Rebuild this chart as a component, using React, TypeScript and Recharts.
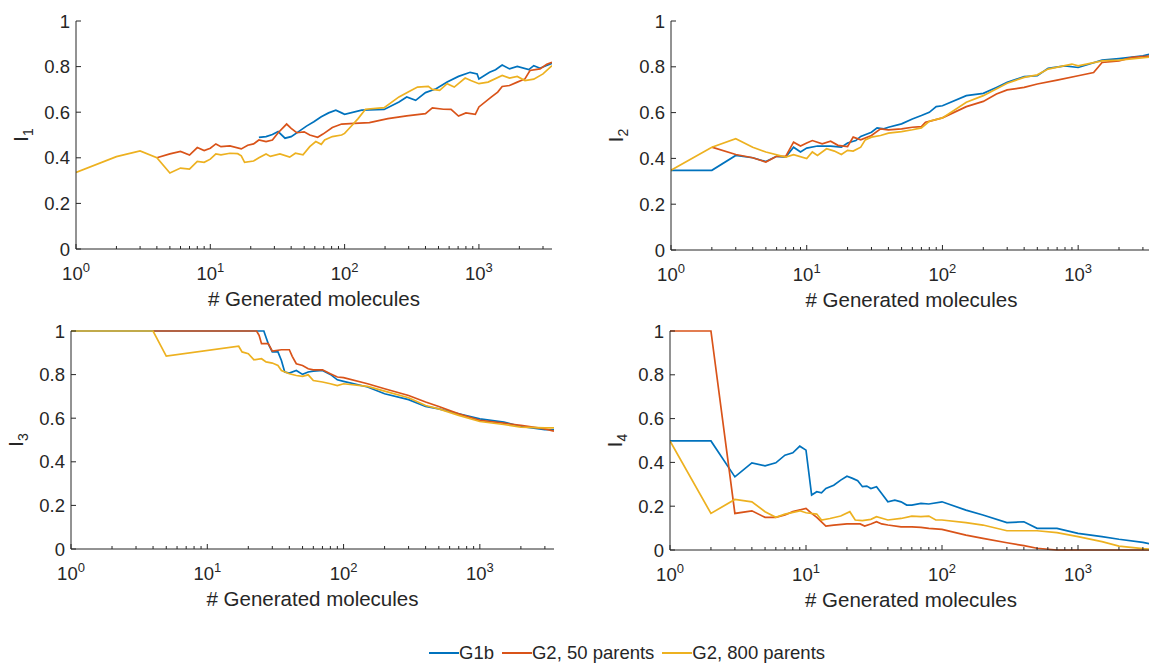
import React from "react";
import { Label, Line, LineChart, XAxis, YAxis } from "recharts";

const FONT = '"Liberation Sans", Arial, Helvetica, sans-serif';
const INK = "#262626";

const seriesNames = ["G1b", "G2, 50 parents", "G2, 800 parents"];
const seriesColors = ["#0072BD", "#D95319", "#EDB120"];

const xTicks = [
  1, 2, 3, 4, 5, 6, 7, 8, 9, 10, 20, 30, 40, 50, 60, 70, 80, 90, 100, 200, 300,
  400, 500, 600, 700, 800, 900, 1000, 2000, 3000,
];
const yTicks = [0, 0.2, 0.4, 0.6, 0.8, 1];
const xDomain = [1, 3500];
const xTitle = "# Generated molecules";

// I1
const i1G1bX = [23, 26, 29, 32, 36, 40, 46, 52, 59, 67, 76, 86, 95, 100, 134, 197, 254, 290, 338, 400, 480, 580, 705, 860, 970, 1000, 1200, 1330, 1490, 1690, 1930, 2350, 2560, 2850, 3500];
const i1G1bY = [0.49, 0.493, 0.502, 0.515, 0.486, 0.493, 0.517, 0.539, 0.558, 0.58, 0.597, 0.609, 0.597, 0.591, 0.609, 0.612, 0.645, 0.667, 0.652, 0.686, 0.703, 0.732, 0.757, 0.775, 0.768, 0.746, 0.775, 0.786, 0.807, 0.79, 0.801, 0.787, 0.804, 0.793, 0.814];
const i1P50X = [4, 5, 6, 7, 8, 9, 10, 11, 12, 14, 17, 19, 21, 23, 26, 29, 32, 37, 40, 44, 50, 55, 63, 69, 81, 95, 118, 153, 210, 290, 400, 450, 545, 620, 705, 800, 940, 1000, 1240, 1380, 1490, 1690, 1930, 2200, 2400, 2850, 3200, 3500];
const i1P50Y = [0.4, 0.417, 0.428, 0.412, 0.445, 0.432, 0.442, 0.461, 0.449, 0.452, 0.439, 0.455, 0.461, 0.478, 0.471, 0.478, 0.51, 0.548, 0.529, 0.51, 0.514, 0.5, 0.49, 0.504, 0.533, 0.548, 0.551, 0.554, 0.572, 0.584, 0.594, 0.619, 0.613, 0.612, 0.583, 0.597, 0.591, 0.623, 0.667, 0.688, 0.713, 0.717, 0.732, 0.746, 0.783, 0.79, 0.81, 0.819];
const i1P800X = [1, 2, 3, 4, 5, 6, 7, 8, 9, 10, 11, 12, 14, 16, 17, 18, 21, 23, 26, 28, 33, 39, 43, 49, 55, 61, 67, 71, 81, 95, 100, 111, 126, 143, 197, 254, 307, 349, 420, 450, 510, 580, 655, 790, 870, 1000, 1170, 1490, 1690, 1930, 2200, 2560, 3000, 3500];
const i1P800Y = [0.336, 0.405, 0.43, 0.4, 0.333, 0.355, 0.35, 0.384, 0.38, 0.394, 0.417, 0.413, 0.42, 0.418, 0.409, 0.38, 0.386, 0.4, 0.417, 0.406, 0.417, 0.403, 0.42, 0.413, 0.449, 0.471, 0.459, 0.478, 0.493, 0.5, 0.507, 0.536, 0.572, 0.613, 0.62, 0.667, 0.693, 0.71, 0.713, 0.7, 0.696, 0.725, 0.71, 0.75, 0.739, 0.725, 0.732, 0.761, 0.75, 0.757, 0.739, 0.745, 0.768, 0.804];

// I2
const i2G1bX = [1, 2, 3, 4, 5, 6, 7, 8, 9, 10, 12, 15, 18, 20, 23, 25, 30, 33, 37, 40, 50, 60, 70, 80, 90, 100, 150, 200, 250, 300, 400, 500, 600, 800, 1000, 1500, 2000, 3000, 3500];
const i2G1bY = [0.348, 0.348, 0.413, 0.403, 0.386, 0.409, 0.406, 0.449, 0.428, 0.445, 0.454, 0.454, 0.449, 0.467, 0.478, 0.496, 0.514, 0.533, 0.529, 0.536, 0.551, 0.572, 0.587, 0.601, 0.626, 0.63, 0.674, 0.684, 0.71, 0.732, 0.757, 0.761, 0.793, 0.804, 0.797, 0.829, 0.836, 0.848, 0.858];
const i2P50X = [2, 3, 4, 5, 6, 7, 8, 9, 10, 11, 13, 15, 17, 20, 22, 25, 30, 35, 40, 50, 60, 70, 75, 80, 100, 150, 200, 250, 300, 400, 500, 700, 1000, 1300, 1500, 2000, 2500, 3500];
const i2P50Y = [0.449, 0.417, 0.403, 0.384, 0.409, 0.409, 0.471, 0.454, 0.467, 0.478, 0.464, 0.475, 0.457, 0.452, 0.493, 0.481, 0.5, 0.529, 0.525, 0.529, 0.536, 0.539, 0.558, 0.562, 0.577, 0.626, 0.649, 0.681, 0.699, 0.71, 0.725, 0.742, 0.761, 0.775, 0.819, 0.826, 0.841, 0.848];
const i2P800X = [1, 2, 3, 4, 5, 7, 8, 10, 11, 12, 14, 16, 18, 20, 22, 25, 27, 30, 35, 40, 50, 60, 70, 80, 100, 150, 200, 300, 400, 500, 600, 900, 1000, 1500, 2000, 3500];
const i2P800Y = [0.348, 0.449, 0.486, 0.449, 0.428, 0.406, 0.416, 0.399, 0.428, 0.413, 0.442, 0.432, 0.417, 0.435, 0.432, 0.449, 0.481, 0.493, 0.5, 0.51, 0.517, 0.525, 0.533, 0.562, 0.577, 0.645, 0.674, 0.728, 0.754, 0.765, 0.79, 0.812, 0.804, 0.826, 0.829, 0.843];

// I3
const i3G1bX = [1, 26, 27, 28, 30, 33, 35, 37, 40, 45, 50, 55, 60, 70, 80, 90, 100, 150, 200, 300, 400, 500, 700, 1000, 1500, 2000, 3000, 3500];
const i3G1bY = [1, 1, 0.97, 0.942, 0.904, 0.904, 0.865, 0.812, 0.807, 0.819, 0.801, 0.812, 0.816, 0.819, 0.801, 0.776, 0.769, 0.743, 0.712, 0.685, 0.654, 0.643, 0.62, 0.597, 0.582, 0.562, 0.547, 0.547];
const i3P50X = [4, 23, 24, 25, 28, 30, 35, 40, 42, 45, 50, 55, 60, 70, 80, 90, 100, 150, 200, 300, 400, 500, 700, 1000, 1500, 2000, 3000, 3500];
const i3P50Y = [1, 1, 0.98, 0.942, 0.942, 0.908, 0.914, 0.914, 0.884, 0.85, 0.842, 0.827, 0.822, 0.822, 0.804, 0.789, 0.786, 0.758, 0.735, 0.704, 0.674, 0.654, 0.62, 0.59, 0.577, 0.567, 0.551, 0.541];
const i3P800X = [1, 4, 5, 17, 18, 20, 22, 25, 27, 30, 33, 35, 40, 45, 50, 55, 60, 70, 80, 90, 100, 150, 200, 300, 400, 500, 700, 1000, 1500, 2000, 3000, 3500];
const i3P800Y = [1, 1, 0.885, 0.93, 0.904, 0.896, 0.868, 0.873, 0.858, 0.853, 0.842, 0.819, 0.804, 0.796, 0.792, 0.799, 0.773, 0.766, 0.758, 0.75, 0.758, 0.746, 0.724, 0.694, 0.658, 0.643, 0.613, 0.585, 0.571, 0.559, 0.556, 0.556];

// I4
const i4G1bX = [1, 2, 3, 4, 5, 6, 7, 8, 9, 10, 11, 12, 13, 14, 16, 18, 20, 22, 24, 26, 28, 30, 33, 36, 40, 45, 50, 55, 60, 70, 80, 100, 150, 200, 300, 400, 500, 700, 1000, 1500, 2000, 3000, 3500];
const i4G1bY = [0.498, 0.498, 0.334, 0.398, 0.384, 0.398, 0.433, 0.444, 0.474, 0.456, 0.251, 0.266, 0.261, 0.281, 0.296, 0.319, 0.337, 0.327, 0.316, 0.289, 0.292, 0.281, 0.289, 0.258, 0.22, 0.228, 0.22, 0.205, 0.205, 0.213, 0.21, 0.22, 0.182, 0.16, 0.125, 0.129, 0.099, 0.099, 0.076, 0.061, 0.049, 0.035, 0.027];
const i4P50X = [1, 2, 3, 4, 5, 6, 7, 8, 10, 11, 12, 14, 16, 20, 25, 27, 30, 33, 36, 40, 50, 60, 70, 80, 100, 150, 200, 300, 400, 500, 700, 1000, 3500];
const i4P50Y = [1, 1, 0.167, 0.179, 0.149, 0.149, 0.16, 0.175, 0.19, 0.167, 0.149, 0.109, 0.114, 0.119, 0.119, 0.109, 0.119, 0.129, 0.119, 0.114, 0.106, 0.106, 0.103, 0.099, 0.094, 0.068, 0.053, 0.033, 0.02, 0.008, 0, 0, 0];
const i4P800X = [1, 2, 3, 4, 5, 6, 7, 9, 10, 12, 13, 15, 18, 21, 23, 26, 30, 33, 40, 50, 60, 70, 80, 90, 100, 150, 200, 300, 500, 700, 1000, 1500, 2000, 3000, 3500];
const i4P800Y = [0.498, 0.167, 0.231, 0.22, 0.175, 0.149, 0.164, 0.179, 0.17, 0.164, 0.137, 0.144, 0.155, 0.175, 0.137, 0.134, 0.14, 0.152, 0.137, 0.144, 0.155, 0.152, 0.155, 0.137, 0.137, 0.125, 0.114, 0.088, 0.088, 0.079, 0.061, 0.038, 0.018, 0.006, 0.003];

const zip = (xs: number[], ys: number[]) => xs.map((x, i) => ({ x, y: ys[i] }));

const panels = [
  { n: 1, left: 0, top: 0, width: 560, height: 312, axisW: 76, axisH: 63, series: [zip(i1G1bX, i1G1bY), zip(i1P50X, i1P50Y), zip(i1P800X, i1P800Y)] },
  { n: 2, left: 595, top: 0, width: 565, height: 312, axisW: 76, axisH: 62, series: [zip(i2G1bX, i2G1bY), zip(i2P50X, i2P50Y), zip(i2P800X, i2P800Y)] },
  { n: 3, left: 0, top: 310, width: 562, height: 300, axisW: 71, axisH: 61, series: [zip(i3G1bX, i3G1bY), zip(i3P50X, i3P50Y), zip(i3P800X, i3P800Y)] },
  { n: 4, left: 594, top: 310, width: 566, height: 300, axisW: 76, axisH: 60, series: [zip(i4G1bX, i4G1bY), zip(i4P50X, i4P50Y), zip(i4P800X, i4P800Y)] },
];

function XTick(props: any) {
  const { x, y, payload } = props;
  const v = payload.value;
  const p = Math.round(Math.log10(v));
  const major = Math.abs(Math.pow(10, p) - v) < 1e-6;
  return (
    <g>
      <line x1={x} x2={x} y1={y} y2={y - (major ? 5 : 3)} stroke={INK} strokeWidth={1} />
      {major && (
        <text x={x} y={y + 31} textAnchor="middle" fill={INK} fontSize={18.5} fontFamily={FONT}>
          10
          <tspan dy={-8} fontSize={13}>{p}</tspan>
        </text>
      )}
    </g>
  );
}

function YTick(props: any) {
  const { x, y, payload } = props;
  return (
    <g>
      <line x1={x} x2={x + 5} y1={y} y2={y} stroke={INK} strokeWidth={1} />
      <text x={x - 6} y={y} dy="0.36em" textAnchor="end" fill={INK} fontSize={18.5} fontFamily={FONT}>
        {String(payload.value)}
      </text>
    </g>
  );
}

function renderXTitle(props: any) {
  const vb = props.viewBox;
  return (
    <text x={vb.x + vb.width / 2} y={vb.y + 57} textAnchor="middle" fill={INK} fontSize={20.5} fontFamily={FONT}>
      {xTitle}
    </text>
  );
}

function makeYTitle(n: number) {
  return (props: any) => {
    const vb = props.viewBox;
    const bx = vb.x + vb.width - 48.5;
    const cy = vb.y + vb.height / 2;
    return (
      <text transform={`translate(${bx},${cy}) rotate(-90)`} textAnchor="middle" fill={INK} fontSize={20} fontFamily={FONT}>
        I
        <tspan dy={5} fontSize={14}>{n}</tspan>
      </text>
    );
  };
}

function Panel({ n, left, top, width, height, axisW, axisH, series }: any) {
  return (
    <div style={{ position: "absolute", left, top }}>
      <LineChart width={width} height={height} margin={{ top: 21, right: 8, left: 0, bottom: 0 }}>
        <XAxis
          type="number"
          dataKey="x"
          scale="log"
          domain={xDomain}
          allowDataOverflow
          ticks={xTicks}
          interval={0}
          tickSize={0}
          tickMargin={0}
          tick={<XTick />}
          height={axisH}
          stroke={INK}
        >
          <Label content={renderXTitle} />
        </XAxis>
        <YAxis
          type="number"
          dataKey="y"
          domain={[0, 1]}
          ticks={yTicks}
          interval={0}
          tickSize={0}
          tickMargin={0}
          tick={<YTick />}
          width={axisW}
          stroke={INK}
        >
          <Label content={makeYTitle(n)} />
        </YAxis>
        {series.map((s: any[], k: number) => (
          <Line
            key={seriesNames[k]}
            data={s}
            dataKey="y"
            name={seriesNames[k]}
            type="linear"
            stroke={seriesColors[k]}
            strokeWidth={1.7}
            dot={false}
            activeDot={false}
            isAnimationActive={false}
          />
        ))}
      </LineChart>
    </div>
  );
}

function LegendRow() {
  return (
    <div
      style={{
        position: "absolute",
        left: 429,
        top: 642,
        display: "flex",
        alignItems: "center",
        fontFamily: FONT,
        fontSize: 18.5,
        color: INK,
        whiteSpace: "nowrap",
      }}
    >
      {seriesNames.map((name, k) => (
        <div key={name} style={{ display: "flex", alignItems: "center", marginRight: 8 }}>
          <span style={{ display: "inline-block", width: 30, height: 0, borderTop: `2px solid ${seriesColors[k]}` }} />
          <span>{name}</span>
        </div>
      ))}
    </div>
  );
}

export default function App() {
  return (
    <div
      style={{
        position: "absolute",
        left: 0,
        top: 0,
        width: 1149,
        height: 664,
        overflow: "hidden",
        background: "#ffffff",
      }}
    >
      {panels.map((p) => (
        <Panel key={p.n} {...p} />
      ))}
      <LegendRow />
    </div>
  );
}
